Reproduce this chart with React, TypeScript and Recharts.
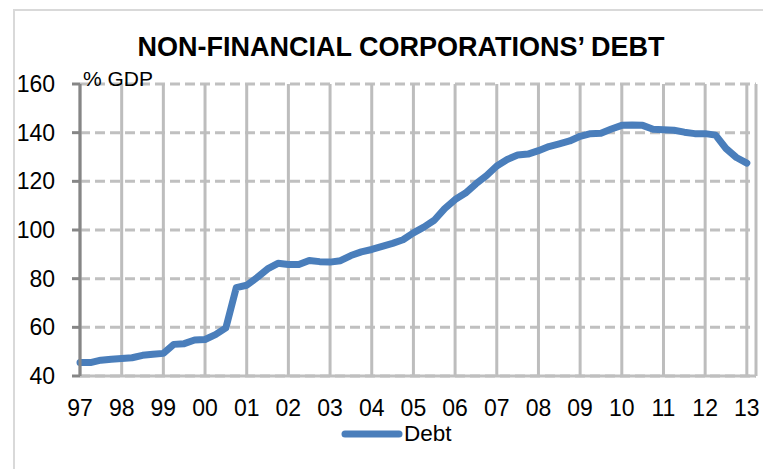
import React from "react";
import { LineChart, Line, XAxis, YAxis, CartesianGrid, Legend } from "recharts";

const years = [1997, 1998, 1999, 2000, 2001, 2002, 2003, 2004, 2005, 2006, 2007, 2008, 2009, 2010, 2011, 2012, 2013];
const yTicks = [40, 60, 80, 100, 120, 140, 160];
const debt = [
  45.5, 45.5, 46.5, 46.9,
  47.2, 47.5, 48.5, 48.9,
  49.3, 53.0, 53.3, 54.8,
  55.0, 57.0, 59.8, 76.3,
  77.3, 80.5, 84.0, 86.3,
  85.8, 85.8, 87.5, 87.0,
  86.8, 87.4, 89.5, 91.0,
  92.0, 93.3, 94.5, 96.0,
  98.8, 101.2, 104.0, 108.8,
  112.5, 115.2, 119.0, 122.3,
  126.3, 129.0, 130.8, 131.2,
  132.6, 134.3, 135.4, 136.6,
  138.5, 139.6, 139.8, 141.5,
  143.0, 143.1, 143.0, 141.4,
  141.2, 141.0, 140.2, 139.6,
  139.6, 139.0, 133.5, 129.8,
  127.5,
];

const data = debt.map((v, i) => ({ t: years[0] + i / 4, Debt: v }));

const FONT = "'Liberation Sans', Arial, sans-serif";

const LegendContent = (props: any) => {
  const item = (props.payload || [])[0];
  if (!item) return null;
  return (
    <div style={{ display: "flex", alignItems: "center", fontFamily: FONT, fontSize: 22.5, lineHeight: "26px", color: "#000" }}>
      <svg width={62} height={12} style={{ display: "block" }}>
        <line x1={4} y1={6} x2={58} y2={6} stroke={item.color} strokeWidth={7} strokeLinecap="round" />
      </svg>
      <span style={{ marginLeft: 1 }}>{item.value}</span>
    </div>
  );
};

export default function App() {
  return (
    <div style={{ position: "absolute", left: 0, top: 0, width: 763, height: 469, overflow: "hidden", background: "#fff" }}>
      <div
        style={{
          position: "absolute",
          left: 13,
          top: 9,
          width: 800,
          height: 500,
          border: "2px solid #d9d9d9",
          boxSizing: "border-box",
        }}
      />
      <LineChart
        width={763}
        height={469}
        data={data}
        margin={{ top: 84, right: 7, bottom: 37, left: 0 }}
        style={{ position: "absolute", left: 0, top: 0 }}
      >
        <CartesianGrid
          horizontal={true}
          vertical={false}
          stroke="#c0c0c0"
          strokeWidth={3}
          strokeDasharray="10 5"
        />
        <CartesianGrid horizontal={false} vertical={true} stroke="#bdbdbd" strokeWidth={3} />
        <XAxis
          dataKey="t"
          type="number"
          domain={[1997, 2013.22]}
          ticks={years}
          interval={0}
          tickFormatter={(v: number) => String(Math.round(v) % 100).padStart(2, "0")}
          axisLine={{ stroke: "#bfbfbf", strokeWidth: 3 }}
          tickLine={false}
          tickSize={0}
          tickMargin={24}
          tick={{ fill: "#000", fontSize: 23, fontFamily: FONT }}
        />
        <YAxis
          domain={[40, 160]}
          ticks={yTicks}
          interval={0}
          width={80}
          axisLine={{ stroke: "#868686", strokeWidth: 3 }}
          tickLine={{ stroke: "#868686", strokeWidth: 3 }}
          tickSize={8}
          tickMargin={17}
          tick={{ fill: "#000", fontSize: 23, fontFamily: FONT }}
        />
        <Legend
          content={<LegendContent />}
          wrapperStyle={{ position: "absolute", left: 341, top: 421, width: 140, height: 26 }}
        />
        <Line
          type="linear"
          dataKey="Debt"
          stroke="#4a7ebb"
          strokeWidth={7}
          strokeLinejoin="round"
          strokeLinecap="round"
          dot={false}
          activeDot={false}
          isAnimationActive={false}
        />
      </LineChart>
      <div
        style={{
          position: "absolute",
          left: 0,
          width: 802,
          top: 34,
          textAlign: "center",
          fontFamily: FONT,
          fontWeight: "bold",
          fontSize: 27,
          lineHeight: "27px",
          color: "#000",
          whiteSpace: "nowrap",
        }}
      >
        NON-FINANCIAL CORPORATIONS’ DEBT
      </div>
      <div
        style={{
          position: "absolute",
          left: 83,
          top: 68,
          fontFamily: FONT,
          fontSize: 21,
          lineHeight: "21px",
          color: "#000",
          whiteSpace: "nowrap",
        }}
      >
        % GDP
      </div>
    </div>
  );
}
